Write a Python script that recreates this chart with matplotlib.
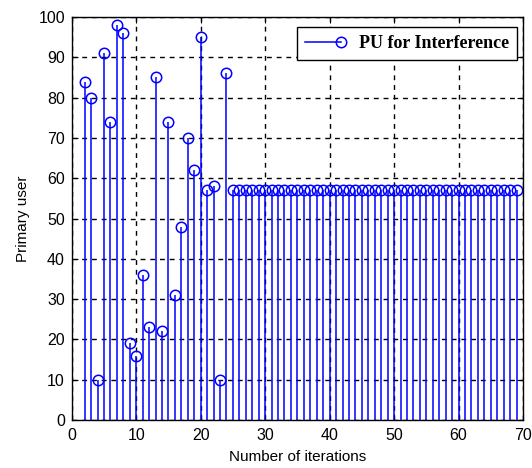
import matplotlib
matplotlib.use("Agg")
import matplotlib.pyplot as plt
from matplotlib.lines import Line2D
from matplotlib.legend_handler import HandlerLine2D
import numpy as np

iterations = list(range(2, 70))
pu_values = [84, 80, 10, 91, 74, 98, 96, 19, 16, 36, 23, 85, 22, 74, 31, 48, 70, 62, 95, 57, 58, 10, 86] + [57] * 45
xticks = [0, 10, 20, 30, 40, 50, 60, 70]
yticks = [0, 10, 20, 30, 40, 50, 60, 70, 80, 90, 100]

BLUE = '#0000ff'


class StemLegendHandler(HandlerLine2D):
    def create_artists(self, legend, orig_handle, xdescent, ydescent, width, height, fontsize, trans):
        y = (height - ydescent) / 2.0
        line = Line2D([-xdescent, -xdescent + width], [y, y], color=BLUE, linewidth=1.1)
        line.set_transform(trans)
        marker = Line2D([-xdescent + width], [y], marker='o', linestyle='none',
                        markerfacecolor='none', markeredgecolor=BLUE, markersize=7.5, markeredgewidth=1.1)
        marker.set_transform(trans)
        return [line, marker]


plt.rcParams['font.family'] = ['Liberation Sans', 'DejaVu Sans']
fig = plt.figure(figsize=(5.32, 4.68), dpi=100)
ax = fig.add_axes([0.135, 0.1026, 0.848, 0.861])

ml, sl, bl = ax.stem(iterations, pu_values, linefmt='-', markerfmt='o', basefmt=' ')
plt.setp(sl, color=BLUE, linewidth=1.1)
plt.setp(ml, markerfacecolor='none', markeredgecolor=BLUE, markersize=7.5, markeredgewidth=1.1)

ax.set_xlim(0, 70)
ax.set_ylim(0, 100)
ax.set_xticks(xticks)
ax.set_yticks(yticks)
ax.tick_params(direction='in', labelsize=11.5, length=4, top=True, right=True)
ax.tick_params(axis='x', pad=6)
ax.tick_params(axis='y', pad=5)
ax.grid(True, color='black', linestyle=(0, (3.5, 3.5)), linewidth=1.0)
ax.set_axisbelow(True)
for s in ax.spines.values():
    s.set_linewidth(1.0)
ax.set_xlabel('Number of iterations', fontsize=11, labelpad=5)
ax.set_ylabel('Primary user', fontsize=11, labelpad=6)

proxy = Line2D([], [], color=BLUE)
leg = ax.legend([proxy], ['PU for Interference'], handler_map={proxy: StemLegendHandler()},
                loc='upper right', bbox_to_anchor=(0.9867, 0.975), borderaxespad=0,
                fancybox=False, framealpha=1,
                edgecolor='black', prop={'family': ['Liberation Serif'], 'weight': 'bold', 'size': 13},
                handlelength=1.95, handletextpad=1.0, borderpad=0.45)
leg.get_frame().set_linewidth(1.0)

fig.savefig('out.png', dpi=100)
